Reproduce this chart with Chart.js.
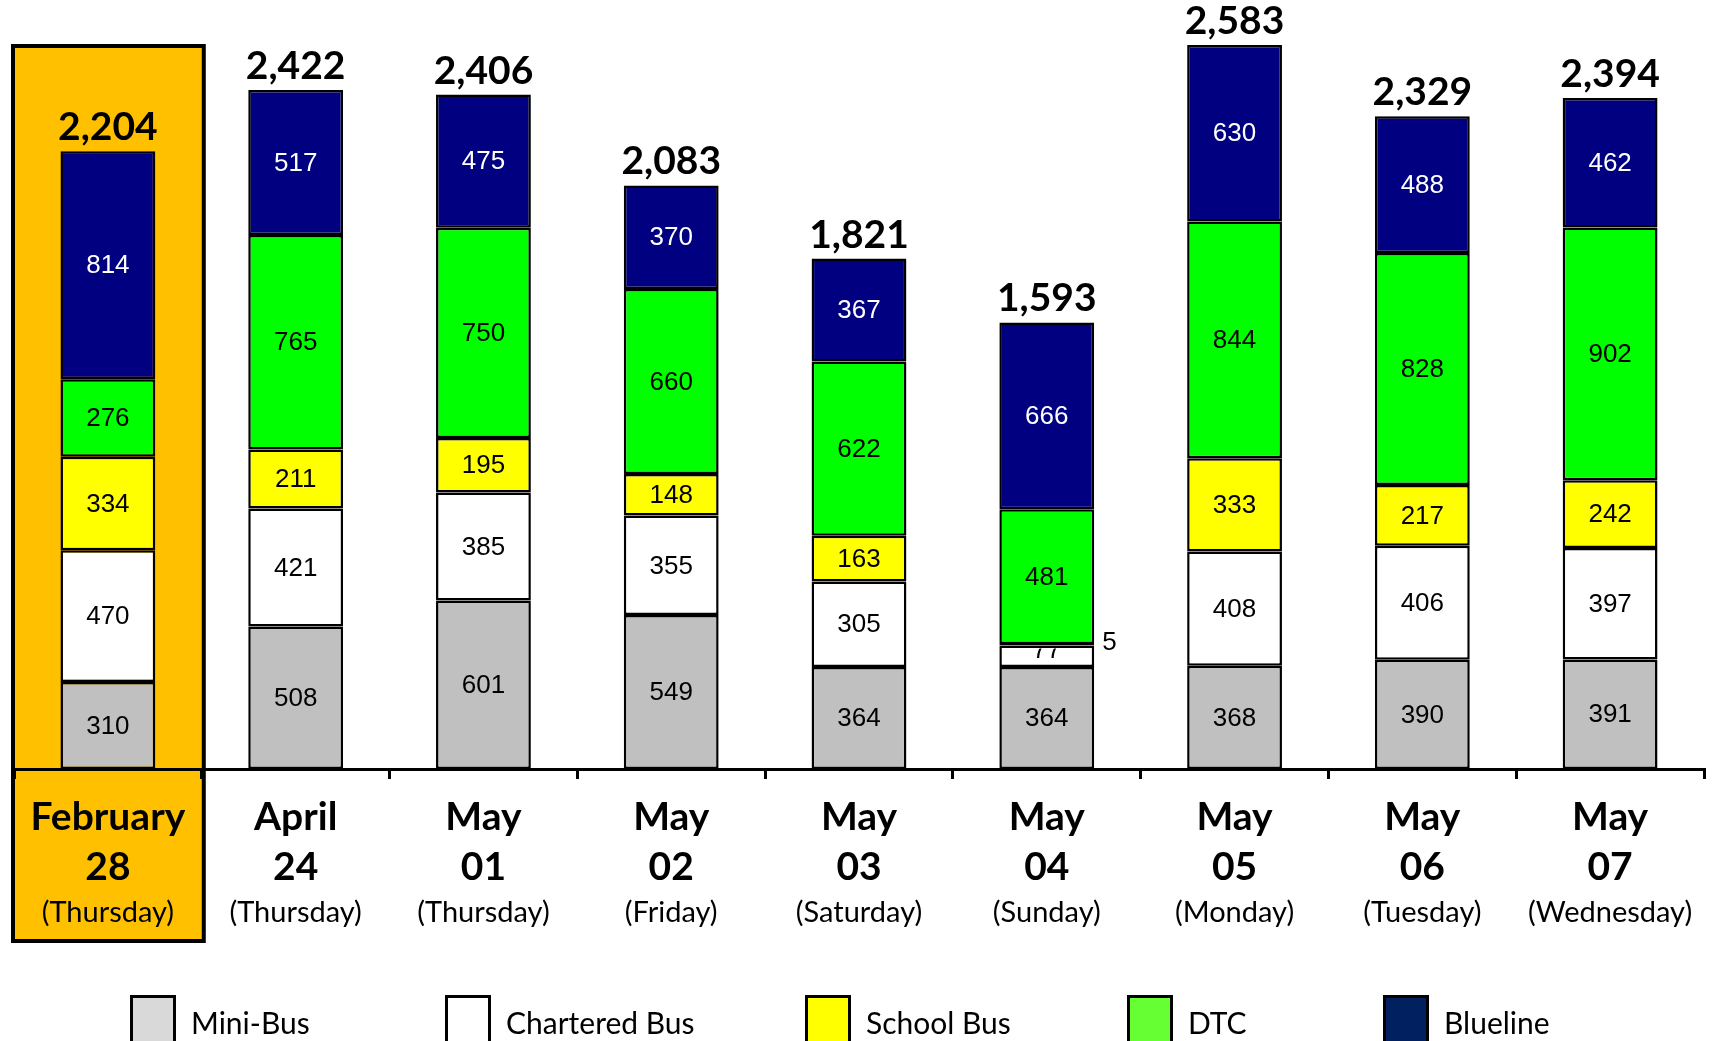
<!DOCTYPE html>
<html>
<head>
<meta charset="utf-8">
<script src="https://cdn.jsdelivr.net/npm/chart.js@4.4.1/dist/chart.umd.min.js"></script>
<style>
  html, body { margin: 0; padding: 0; background: #fff; }
  canvas { display: block; }
</style>
</head>
<body>
<canvas id="busChart" width="1715" height="1041"></canvas>
<script>
// categorias del eje x
const months = ['February', 'April', 'May', 'May', 'May', 'May', 'May', 'May', 'May'];
const days = ['28', '24', '01', '02', '03', '04', '05', '06', '07'];
const weekdays = ['(Thursday)', '(Thursday)', '(Thursday)', '(Friday)', '(Saturday)', '(Sunday)', '(Monday)', '(Tuesday)', '(Wednesday)'];

// valores por tipo de bus
const miniBus = [310, 508, 601, 549, 364, 364, 368, 390, 391];
const charteredBus = [470, 421, 385, 355, 305, 77, 408, 406, 397];
const schoolBus = [334, 211, 195, 148, 163, 5, 333, 217, 242];
const dtc = [276, 765, 750, 660, 622, 481, 844, 828, 902];
const blueline = [814, 517, 475, 370, 367, 666, 630, 488, 462];
const totals = [2204, 2422, 2406, 2083, 1821, 1593, 2583, 2329, 2394];

const yMax = 2672;

// caja naranja detras de la primera categoria
const highlightBox = {
    id: 'highlightBox',
    beforeDraw(chart) {
        const ctx = chart.ctx;
        const x = chart.scales.x;
        const cx = x.getPixelForValue(0);
        const half = (x.getPixelForValue(1) - cx) / 2;
        ctx.save();
        ctx.fillStyle = '#FFC000';
        ctx.strokeStyle = '#000';
        ctx.lineWidth = 4;
        ctx.beginPath();
        ctx.rect(cx - half - 1, 46, 2 * half + 3, 895);
        ctx.fill();
        ctx.stroke();
        ctx.restore();
    }
};

// numeros dentro de cada segmento
const segmentLabels = {
    id: 'segmentLabels',
    afterDatasetsDraw(chart) {
        const ctx = chart.ctx;
        ctx.save();
        ctx.font = '26px "Liberation Sans", Arial, sans-serif';
        chart.data.datasets.forEach((ds, i) => {
            const meta = chart.getDatasetMeta(i);
            meta.data.forEach((bar, j) => {
                const top = Math.min(bar.y, bar.base);
                const bottom = Math.max(bar.y, bar.base);
                const h = bottom - top;
                const text = String(ds.data[j]);
                ctx.fillStyle = ds.valueColor;
                ctx.textBaseline = 'middle';
                if (h < 8) {
                    ctx.fillStyle = '#000';
                    ctx.textAlign = 'left';
                    ctx.fillText(text, bar.x + bar.width / 2 + 8, (top + bottom) / 2 - 2);
                } else if (h < 26) {
                    // segmento muy fino: el texto queda recortado
                    ctx.save();
                    ctx.beginPath();
                    ctx.rect(bar.x - bar.width / 2, top + 3, bar.width, h - 6);
                    ctx.clip();
                    ctx.textAlign = 'center';
                    ctx.fillText(text, bar.x, top + 5);
                    ctx.restore();
                } else {
                    ctx.textAlign = 'center';
                    ctx.fillText(text, bar.x, (top + bottom) / 2 + 1);
                }
            });
        });
        ctx.restore();
    }
};

// totales encima de las barras
const totalLabels = {
    id: 'totalLabels',
    afterDatasetsDraw(chart) {
        const ctx = chart.ctx;
        const last = chart.getDatasetMeta(chart.data.datasets.length - 1);
        ctx.save();
        ctx.font = 'bold 39px Lato, sans-serif';
        ctx.fillStyle = '#000';
        ctx.textAlign = 'center';
        ctx.textBaseline = 'alphabetic';
        last.data.forEach((bar, j) => {
            ctx.fillText(totals[j].toLocaleString('en-US'), bar.x, Math.min(bar.y, bar.base) - 11);
        });
        ctx.restore();
    }
};

// etiquetas del eje x en tres lineas
const xLabels = {
    id: 'xLabels',
    afterDraw(chart) {
        const ctx = chart.ctx;
        const x = chart.scales.x;
        ctx.save();
        ctx.fillStyle = '#000';
        ctx.textAlign = 'center';
        ctx.textBaseline = 'middle';
        chart.data.labels.forEach((lines, j) => {
            const cx = x.getPixelForValue(j);
            ctx.font = 'bold 39px Lato, sans-serif';
            ctx.fillText(lines[0], cx, 817);
            ctx.fillText(lines[1], cx, 867);
            ctx.font = '29px Lato, sans-serif';
            ctx.fillText(lines[2], cx, 913);
        });
        ctx.restore();
    }
};

// leyenda abajo
const bottomLegend = {
    id: 'bottomLegend',
    afterDraw(chart, args, opts) {
        const ctx = chart.ctx;
        ctx.save();
        ctx.font = '30px Lato, sans-serif';
        ctx.textBaseline = 'alphabetic';
        ctx.textAlign = 'left';
        chart.data.datasets.forEach((ds, i) => {
            const bx = opts.xs[i];
            ctx.fillStyle = opts.colors[i];
            ctx.fillRect(bx, 995, 46, 46);
            ctx.strokeStyle = '#000';
            ctx.lineWidth = 3;
            ctx.strokeRect(bx + 1.5, 996.5, 43, 46);
            ctx.fillStyle = '#000';
            ctx.fillText(ds.label, bx + 61, 1034);
        });
        ctx.restore();
    }
};

const barStyle = {
    borderColor: '#000',
    borderWidth: 2.5,
    borderSkipped: false,
    barPercentage: 0.505,
    categoryPercentage: 1
};

new Chart(document.getElementById('busChart'), {
    type: 'bar',
    data: {
        labels: months.map((m, i) => [m, days[i], weekdays[i]]),
        datasets: [
            { label: 'Mini-Bus', data: miniBus, backgroundColor: '#C0C0C0', valueColor: '#000', ...barStyle },
            { label: 'Chartered Bus', data: charteredBus, backgroundColor: '#FFFFFF', valueColor: '#000', ...barStyle },
            { label: 'School Bus', data: schoolBus, backgroundColor: '#FFFF00', valueColor: '#000', ...barStyle },
            { label: 'DTC', data: dtc, backgroundColor: '#00FF00', valueColor: '#000', ...barStyle },
            { label: 'Blueline', data: blueline, backgroundColor: '#000080', valueColor: '#FFFFFF', ...barStyle }
        ]
    },
    options: {
        responsive: false,
        animation: false,
        layout: { padding: { left: 14, right: 11, top: 20, bottom: 0 } },
        plugins: {
            legend: { display: false },
            tooltip: { enabled: false },
            bottomLegend: {
                xs: [130, 445, 805, 1127, 1383],
                colors: ['#D9D9D9', '#FFFFFF', '#FFFF00', '#66FF33', '#002060']
            }
        },
        scales: {
            x: {
                stacked: true,
                ticks: { display: false },
                grid: { offset: true, drawOnChartArea: false, drawTicks: true, tickLength: 10, lineWidth: 3, color: '#000' },
                border: { display: true, color: '#000', width: 3 },
                afterFit: s => { s.height = 272; }
            },
            y: { stacked: true, display: false, min: 0, max: yMax }
        }
    },
    plugins: [highlightBox, segmentLabels, totalLabels, xLabels, bottomLegend]
});
</script>
</body>
</html>
